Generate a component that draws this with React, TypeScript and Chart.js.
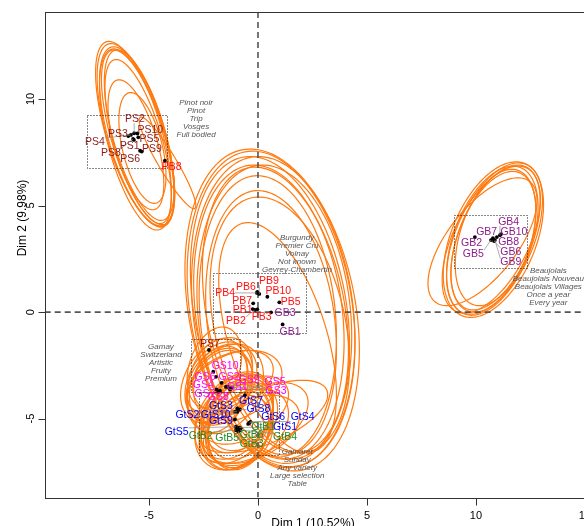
import React, { useEffect, useRef } from "react";
import { Chart, registerables } from "chart.js";

Chart.register(...registerables);

// ---------- data ----------
const productNames = [
  "PS1", "PS2", "PS3", "PS4", "PS5", "PS6", "PS7", "PS8", "PS9", "PS10",
  "PB1", "PB2", "PB3", "PB4", "PB5", "PB6", "PB7", "PB8", "PB9", "PB10",
  "GB1", "GB2", "GB3", "GB4", "GB5", "GB6", "GB7", "GB8", "GB9", "GB10",
  "GS1", "GS2", "GS3", "GS4", "GS5", "GS6", "GS7", "GS8", "GS9", "GS10",
  "GtS1", "GtS2", "GtS3", "GtS4", "GtS5", "GtS6", "GtS7", "GtS8", "GtS9", "GtS10",
  "GtB1", "GtB2", "GtB3", "GtB4", "GtB5", "GtB6",
];
const productGroup = [
  "PS", "PS", "PS", "PS", "PS", "PS", "PS", "PS", "PS", "PS",
  "PB", "PB", "PB", "PB", "PB", "PB", "PB", "PB", "PB", "PB",
  "GB", "GB", "GB", "GB", "GB", "GB", "GB", "GB", "GB", "GB",
  "GS", "GS", "GS", "GS", "GS", "GS", "GS", "GS", "GS", "GS",
  "GtS", "GtS", "GtS", "GtS", "GtS", "GtS", "GtS", "GtS", "GtS", "GtS",
  "GtB", "GtB", "GtB", "GtB", "GtB", "GtB",
];
const pointX = [
  -5.69, -5.68, -5.95, -5.83, -5.49, -5.41, -2.25, -5.73, -5.33, -5.53,
  -0.24, -0.15, -0.03, -0.05, 0.98, -0.03, -0.22, -4.27, 0.06, 0.43,
  1.13, 9.95, 0.6, 11.1, 10.69, 10.83, 10.78, 10.96, 10.87, 11.15,
  -1.47, -1.67, -1.28, -1.9, -1.21, -1.93, -1.74, -1.82, -1.36, -2.05,
  -0.86, -1.06, -0.95, -0.35, -1.01, -0.4, -0.6, -0.83, -1.06, -0.95,
  -0.45, -1.01, -0.9, -0.83, -0.95, -0.79,
];
const pointY = [
  8.08, 8.39, 8.26, 8.31, 8.2, 7.57, -1.78, 8.12, 7.53, 8.38,
  0.14, 0.1, 0.13, 0.9, 0.46, 0.95, 0.41, 7.1, 0.85, 0.72,
  -0.58, 3.52, -0.01, 3.61, 3.38, 3.33, 3.47, 3.52, 3.38, 3.66,
  -3.51, -3.32, -3.63, -3.63, -3.55, -3.04, -3.69, -3.74, -3.51, -2.8,
  -5.41, -4.68, -4.52, -5.15, -5.38, -5.2, -3.9, -4.57, -5.04, -4.68,
  -5.25, -5.54, -5.59, -5.54, -5.51, -5.46,
];
const labelX = [
  -5.89, -5.64, -6.42, -7.48, -4.98, -5.86, -2.2, -6.75, -4.86, -4.94,
  -0.7, -1.01, 0.17, -1.51, 1.5, -0.55, -0.72, -3.96, 0.5, 0.93,
  1.47, 9.8, 1.24, 11.5, 9.88, 11.6, 10.49, 11.5, 11.6, 11.74,
  -0.95, -1.33, 0.83, -2.51, 0.78, -2.43, -2.43, -1.82, -0.41, -1.51,
  1.24, -3.24, -1.7, 2.05, -3.73, 0.7, -0.32, 0.02, -1.7, -1.94,
  0.24, -2.63, -0.29, 1.24, -1.41, -0.29,
];
const labelY = [
  7.79, 9.05, 8.34, 7.98, 8.12, 7.18, -1.5, 7.48, 7.64, 8.54,
  0.09, -0.41, -0.25, 0.91, 0.48, 1.19, 0.53, 6.79, 1.47, 0.99,
  -0.92, 3.23, -0.06, 4.24, 2.71, 2.83, 3.74, 3.27, 2.33, 3.74,
  -3.51, -3.04, -3.71, -3.43, -3.3, -3.04, -3.85, -3.98, -3.19, -2.54,
  -5.38, -4.84, -4.41, -4.94, -5.62, -4.94, -4.16, -4.57, -5.1, -4.84,
  -5.38, -5.82, -6.2, -5.88, -5.93, -5.77,
];

// confidence ellipses: centre, half-extent along x and y, correlation
const ellipseCX = [
  -5.6, -5.55, -5.5, -5.62, -5.45, -5.5, -5.6, -5.3, -5.65, -4.15,
  0.65, 0.6, 0.7, 0.55, 0.75, 0.5, 0.8, 0.45, 0.9, 0.6, 1.0,
  10.8, 10.85, 10.75, 10.9, 10.8, 10.7, 10.3, 10.9,
  -2.0, -1.8, -1.7, -1.9, -1.6, -1.5, -1.3, -1.75, -1.1, -1.85, -1.65,
  -0.9, -1.0, -0.8, -1.1, -0.6, 0.3, -0.9, -1.0, -0.7, -0.2, -0.9, -1.0, -0.8, -0.5, -1.1, -0.3,
];
const ellipseCY = [
  8.3, 8.25, 8.2, 8.1, 8.3, 8.0, 7.85, 7.7, 8.35, 7.0,
  0.1, 0.15, 0.0, 0.2, -0.1, 0.0, 0.1, -0.2, -1.2, -0.5, -0.6,
  3.4, 3.45, 3.35, 3.5, 3.3, 3.4, 3.3, 3.5,
  -2.6, -3.3, -3.5, -3.2, -3.4, -3.6, -3.3, -3.1, -3.5, -3.45, -3.25,
  -4.7, -4.9, -4.8, -5.0, -4.6, -4.9, -5.3, -5.2, -5.1, -5.2, -5.5, -5.4, -5.6, -5.4, -5.3, -5.5,
];
const ellipseSX = [
  1.78, 1.72, 1.68, 1.65, 1.6, 1.52, 1.28, 1.08, 1.8, 1.3,
  4.0, 3.85, 3.75, 3.65, 3.55, 3.45, 3.35, 3.15, 2.7, 3.0, 3.2,
  2.3, 2.2, 2.1, 2.05, 1.95, 2.25, 2.5, 1.85,
  1.25, 1.55, 1.45, 1.65, 1.35, 1.75, 2.0, 1.25, 2.2, 1.4, 1.6,
  1.6, 1.7, 1.5, 1.8, 2.0, 2.9, 1.5, 1.7, 1.6, 2.5, 1.4, 1.6, 1.5, 1.9, 1.8, 2.2,
];
const ellipseSY = [
  4.3, 4.2, 4.1, 4.25, 4.0, 3.85, 3.05, 2.6, 4.35, 2.15,
  7.55, 7.4, 7.3, 7.1, 7.0, 6.9, 6.7, 6.6, 5.4, 6.2, 6.0,
  3.65, 3.55, 3.5, 3.4, 3.3, 3.45, 3.0, 3.2,
  1.9, 1.9, 1.8, 2.0, 1.6, 2.1, 1.5, 1.5, 1.7, 2.2, 1.75,
  1.9, 2.0, 1.7, 2.1, 1.6, 1.7, 2.0, 2.2, 1.8, 1.9, 1.9, 2.0, 1.7, 1.8, 2.1, 1.6,
];
const ellipseR = [
  -0.64, -0.62, -0.66, -0.6, -0.63, -0.66, -0.6, -0.5, -0.66, -0.93,
  -0.25, -0.22, -0.18, -0.25, -0.15, -0.2, -0.28, -0.15, -0.5, -0.2, -0.3,
  0.45, 0.5, 0.45, 0.5, 0.45, 0.55, 0.65, 0.4,
  0.3, 0.3, 0.25, 0.35, 0.2, 0.3, 0.4, 0.25, 0.35, 0.2, 0.3,
  0.3, 0.35, 0.25, 0.3, 0.45, 0.6, 0.2, 0.25, 0.3, 0.5, 0.15, 0.2, 0.2, 0.35, 0.25, 0.4,
];

// group boxes (data units)
const boxLeft = [-7.84, -2.08, 8.99, -3.09, -2.71];
const boxRight = [-4.17, 2.2, 12.34, -0.83, 0.96];
const boxTop = [9.26, 1.82, 4.55, -1.24, -3.74];
const boxBottom = [6.74, -0.97, 2.07, -3.74, -6.71];

// descriptive notes
const noteLines = [
  ["Pinot noir", "Pinot", "Trip", "Vosges", "Full bodied"],
  ["Burgundy", "Premier Cru", "Volnay", "Not known", "Gevrey-Chambertin"],
  ["Gamay", "Switzerland", "Artistic", "Fruity", "Premium"],
  ["Gamaret", "Sunday", "Any variety", "Large selection", "Table"],
  ["Beaujolais", "Beaujolais Nouveau", "Beaujolais Villages", "Once a year", "Every year"],
];
const noteX = [-2.84, 1.79, -4.45, 1.8, 13.32];
const noteY = [9.8, 3.49, -1.63, -6.56, 1.94];

const xTickValues = [-5, 0, 5, 10, 15];
const yTickValues = [-5, 0, 5, 10];
const xTitle = "Dim 1 (10.52%)";
const yTitle = "Dim 2 (9.98%)";

// ---------- styles ----------
const groupColors: Record<string, string> = {
  PS: "#8B1A1A",
  PB: "#FF1010",
  GB: "#8B1C8B",
  GS: "#FF00FF",
  GtS: "#0000FF",
  GtB: "#228B22",
};
const FONT = '"Liberation Sans", Arial, sans-serif';

const drawPlugin = {
  id: "sensoryDraw",
  beforeDatasetsDraw(chart: any) {
    const { ctx, chartArea: a } = chart;
    const sx = chart.scales.x;
    const sy = chart.scales.y;
    ctx.save();
    ctx.beginPath();
    ctx.rect(a.left, a.top, a.right - a.left, a.bottom - a.top);
    ctx.clip();

    // ellipses
    ctx.strokeStyle = "#FF7A10";
    ctx.lineWidth = 1.2;
    for (let i = 0; i < ellipseCX.length; i++) {
      const d = Math.acos(ellipseR[i]);
      ctx.beginPath();
      const n = 160;
      for (let k = 0; k <= n; k++) {
        const t = (k / n) * Math.PI * 2;
        const ex = ellipseCX[i] + ellipseSX[i] * Math.cos(t);
        const ey = ellipseCY[i] + ellipseSY[i] * Math.cos(t - d);
        const px = sx.getPixelForValue(ex);
        const py = sy.getPixelForValue(ey);
        if (k === 0) ctx.moveTo(px, py);
        else ctx.lineTo(px, py);
      }
      ctx.closePath();
      ctx.stroke();
    }

    // boxes
    ctx.setLineDash([1, 2]);
    ctx.strokeStyle = "#111";
    ctx.lineWidth = 1;
    for (let i = 0; i < boxLeft.length; i++) {
      const x1 = Math.round(sx.getPixelForValue(boxLeft[i])) + 0.5;
      const x2 = Math.round(sx.getPixelForValue(boxRight[i])) + 0.5;
      const y1 = Math.round(sy.getPixelForValue(boxTop[i])) + 0.5;
      const y2 = Math.round(sy.getPixelForValue(boxBottom[i])) + 0.5;
      ctx.strokeRect(x1, y1, x2 - x1, y2 - y1);
    }

    // zero lines
    ctx.setLineDash([6, 4]);
    ctx.strokeStyle = "#555";
    ctx.lineWidth = 1.6;
    const x0 = sx.getPixelForValue(0);
    const y0 = sy.getPixelForValue(0);
    ctx.beginPath();
    ctx.moveTo(x0, a.top);
    ctx.lineTo(x0, a.bottom);
    ctx.moveTo(a.left, y0);
    ctx.lineTo(a.right, y0);
    ctx.stroke();
    ctx.restore();
  },
  afterDatasetsDraw(chart: any) {
    const { ctx } = chart;
    const sx = chart.scales.x;
    const sy = chart.scales.y;
    ctx.save();
    ctx.font = `10.5px ${FONT}`;
    ctx.textAlign = "center";
    ctx.textBaseline = "middle";
    // leader lines
    ctx.strokeStyle = "#8a8a8a";
    ctx.lineWidth = 0.7;
    for (let i = 0; i < productNames.length; i++) {
      const px = sx.getPixelForValue(pointX[i]);
      const py = sy.getPixelForValue(pointY[i]);
      const lx = sx.getPixelForValue(labelX[i]);
      const ly = sy.getPixelForValue(labelY[i]);
      const w = ctx.measureText(productNames[i]).width / 2;
      const h = 4;
      const cx = Math.max(lx - w, Math.min(px, lx + w));
      const cy = Math.max(ly - h, Math.min(py, ly + h));
      if (Math.hypot(cx - px, cy - py) > 5) {
        ctx.beginPath();
        ctx.moveTo(px, py);
        ctx.lineTo(cx, cy);
        ctx.stroke();
      }
    }
    // labels
    for (let i = 0; i < productNames.length; i++) {
      ctx.fillStyle = groupColors[productGroup[i]];
      ctx.fillText(productNames[i], sx.getPixelForValue(labelX[i]), sy.getPixelForValue(labelY[i]));
    }
    // notes
    ctx.font = `italic 8px ${FONT}`;
    ctx.fillStyle = "#555";
    for (let i = 0; i < noteLines.length; i++) {
      const nx = sx.getPixelForValue(noteX[i]);
      const ny = sy.getPixelForValue(noteY[i]);
      noteLines[i].forEach((line, j) => ctx.fillText(line, nx, ny + j * 7.9));
    }
    ctx.restore();
  },
  afterDraw(chart: any) {
    const { ctx, chartArea: a } = chart;
    const sx = chart.scales.x;
    const sy = chart.scales.y;
    ctx.save();
    ctx.strokeStyle = "#333";
    ctx.lineWidth = 1;
    const L = Math.round(a.left) + 0.5;
    const T = Math.round(a.top) + 0.5;
    const B = Math.round(a.bottom) + 0.5;
    const R = Math.round(a.right) + 0.5;
    ctx.strokeRect(L, T, R - L, B - T);
    ctx.beginPath();
    yTickValues.forEach((v) => {
      const y = Math.round(sy.getPixelForValue(v)) + 0.5;
      ctx.moveTo(L - 7, y);
      ctx.lineTo(L, y);
    });
    xTickValues.forEach((v) => {
      const x = Math.round(sx.getPixelForValue(v)) + 0.5;
      ctx.moveTo(x, B);
      ctx.lineTo(x, B + 7);
    });
    ctx.stroke();

    ctx.fillStyle = "#000";
    ctx.font = `11px ${FONT}`;
    ctx.textAlign = "center";
    ctx.textBaseline = "middle";
    xTickValues.forEach((v) => {
      ctx.fillText(String(v), sx.getPixelForValue(v), 516);
    });
    yTickValues.forEach((v) => {
      ctx.save();
      ctx.translate(30.5, sy.getPixelForValue(v));
      ctx.rotate(-Math.PI / 2);
      ctx.fillText(String(v), 0, 0);
      ctx.restore();
    });
    ctx.font = `12px ${FONT}`;
    ctx.fillText(xTitle, 313, 524);
    ctx.save();
    ctx.translate(22.5, 218);
    ctx.rotate(-Math.PI / 2);
    ctx.fillText(yTitle, 0, 0);
    ctx.restore();
    ctx.restore();
  },
};

export default function App() {
  const ref = useRef<HTMLCanvasElement>(null);
  useEffect(() => {
    const canvas = ref.current;
    if (!canvas) return;
    const chart = new Chart(canvas, {
      type: "scatter",
      data: {
        datasets: [
          {
            data: pointX.map((x, i) => ({ x, y: pointY[i] })),
            pointRadius: 1.9,
            pointHoverRadius: 1.9,
            pointBackgroundColor: "#000",
            pointBorderWidth: 0,
          },
        ],
      },
      options: {
        animation: false,
        responsive: false,
        devicePixelRatio: 1,
        events: [],
        layout: { padding: { left: 44.7, top: 12, right: 20, bottom: 28.5 } },
        scales: {
          x: { type: "linear", min: -9.784, max: 15.69, display: false },
          y: { type: "linear", min: -8.7, max: 14.08, display: false },
        },
        plugins: { legend: { display: false }, tooltip: { enabled: false } },
      },
      plugins: [drawPlugin],
    } as any);
    return () => chart.destroy();
  }, []);
  return (
    <div
      style={{
        position: "fixed",
        left: 0,
        top: 0,
        width: 584,
        height: 526,
        overflow: "hidden",
        background: "#fff",
      }}
    >
      <canvas ref={ref} width={620} height={526} style={{ display: "block" }} />
    </div>
  );
}
